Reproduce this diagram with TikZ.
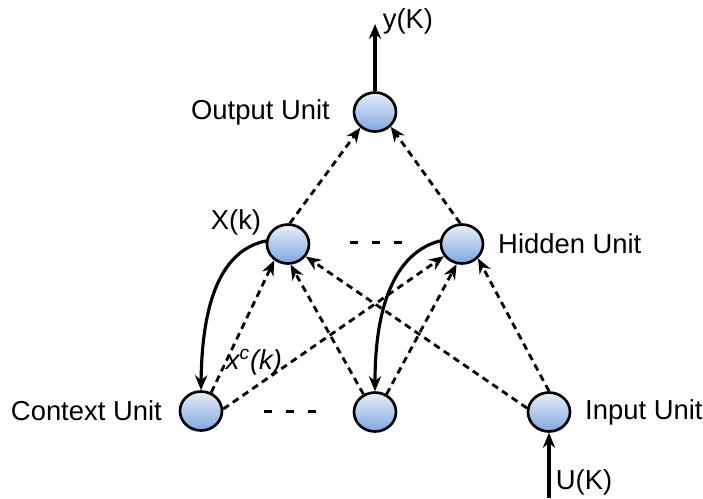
\documentclass[tikz,border=0pt]{standalone}
\usepackage{fontspec}
\setmainfont{Liberation Sans}
\usetikzlibrary{arrows.meta,shapes.geometric}

\definecolor{unittop}{HTML}{E8EFFA}
\definecolor{unitbot}{HTML}{7EA6E0}

\tikzset{
    unit/.style={ellipse, draw, line width=1.5pt, inner sep=0pt,
        minimum width=0.84cm, minimum height=0.78cm,
        top color=unittop, bottom color=unitbot},
    link/.style={->, line width=1.6pt, dash pattern=on 3.9pt off 2.8pt},
    feedback/.style={->, line width=1.8pt},
    ellipsis/.style={line width=1.7pt, dash pattern=on 4.5pt off 8pt}
}

\begin{document}
\begin{tikzpicture}[x=0.02cm, y=-0.02cm, >={Stealth[length=8.5pt,width=7pt]},
    font=\fontsize{15.6}{18}\selectfont]

    \useasboundingbox (0,0) rectangle (703,498);

    % units
    \node[unit] (out) at (375,112) {};
    \node[unit] (hid1) at (288,244) {};
    \node[unit] (hid2) at (462,244) {};
    \node[unit] (ctx) at (201,411) {};
    \node[unit] (mid) at (375,412) {};
    \node[unit] (inp) at (549,412) {};

    \coordinate (yk) at (375,24);
    \coordinate (uk) at (549,498);

    % labels
    \path (336,112) node[anchor=east] (outlbl) {Output Unit};
    \path (236,222) node (xlbl) {X(k)};
    \path (492,244) node[anchor=west] (hidlbl) {Hidden Unit};
    \path (168,411) node[anchor=east] (ctxlbl) {Context Unit};
    \path (579,412) node[anchor=west] (inplbl) {Input Unit};
    \path (254,362) node (xclbl) {\textit{x\textsuperscript{c}(k)}};
    \path (408,21) node (ylbl) {y(K)};
    \path (584,482) node (ulbl) {U(K)};

    % hidden -> output
    \draw[link] (hid1.85) -- (out.227);
    \draw[link] (hid2.95) -- (out.317);

    % lower row -> hidden
    \draw[link] (ctx.61) -- (hid1.230);
    \draw[link] (mid.123) -- (hid1.277);
    \draw[link] (inp.170) -- (hid1.325);
    \draw[link] (ctx.5) -- (hid2.214);
    \draw[link] (mid.57) -- (hid2.255);
    \draw[link] (inp.90) -- (hid2.318);

    % copies into the context
    \draw[feedback] (hid1.172) .. controls (222,250) and (202,300) .. (ctx.north);
    \draw[feedback] (hid2.172) .. controls (398,252) and (375,300) .. (mid.north);

    \draw[feedback] (out.north) -- (yk);
    \draw[feedback] (uk) -- (inp.south);

    \draw[ellipsis] (350,242) -- (402,242);
    \draw[ellipsis] (264,411) -- (316,411);

\end{tikzpicture}
\end{document}
